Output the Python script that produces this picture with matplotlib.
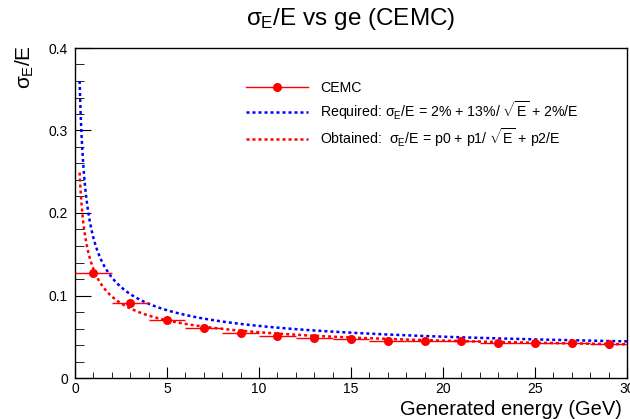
import numpy as np
import matplotlib
matplotlib.use('Agg')
import matplotlib.pyplot as plt
from matplotlib.ticker import MultipleLocator
from matplotlib.lines import Line2D

plt.rcParams['font.family'] = ['Liberation Sans', 'DejaVu Sans']
plt.rcParams['mathtext.fontset'] = 'custom'
plt.rcParams['mathtext.rm'] = 'Liberation Sans'
plt.rcParams['mathtext.it'] = 'Liberation Sans'
plt.rcParams['mathtext.sf'] = 'Liberation Sans'

# measured points (bin centres, bin half width 1 GeV)
energy = [1, 3, 5, 7, 9, 11, 13, 15, 17, 19, 21, 23, 25, 27, 29]
energy_err = [1] * 15
sigma_over_e = [0.127, 0.0905, 0.070, 0.061, 0.055, 0.051, 0.0485, 0.047,
                0.045, 0.045, 0.045, 0.043, 0.043, 0.042, 0.0416]
sigma_err = [0.002] * 15

# required resolution terms: 2% + 13%/sqrt(E) + 2%/E
required_pars = [0.02, 0.13, 0.02]
# fitted terms p0, p1, p2
fit_pars = [0.021, 0.108, 0.003]
curve_range = [0.25, 30]

label_data = 'CEMC'
label_req = r'Required: $\sigma_E$/E = 2% + 13%/ $\sqrt{\rm E}$ + 2%/E'
label_fit = r'Obtained:  $\sigma_E$/E = p0 + p1/ $\sqrt{\rm E}$ + p2/E'


def resolution(e, p):
    return p[0] + p[1] / np.sqrt(e) + p[2] / e


fig = plt.figure(figsize=(6.3, 4.19), dpi=100)
ax = fig.add_axes([75 / 630, 1 - 378 / 419, 552 / 630, 330 / 419])

e_grid = np.linspace(curve_range[0], curve_range[1], 600)
ax.errorbar(energy, sigma_over_e, xerr=energy_err, yerr=sigma_err,
            fmt='o', color='#ff0000', ms=5.5, elinewidth=1.0, capsize=0,
            zorder=3)
ax.plot(e_grid, resolution(e_grid, required_pars), color='#0000ff',
        ls=(0, (1.2, 1.2)), lw=1.8)
ax.plot(e_grid, resolution(e_grid, fit_pars), color='#ff0000',
        ls=(0, (1.2, 1.2)), lw=1.8)

ax.set_xlim(0, 30)
ax.set_ylim(0, 0.4)
ax.xaxis.set_major_locator(MultipleLocator(5))
ax.xaxis.set_minor_locator(MultipleLocator(1))
ax.yaxis.set_minor_locator(MultipleLocator(0.02))
ax.set_yticks([0, 0.1, 0.2, 0.3, 0.4])
ax.set_yticklabels(['0', '0.1', '0.2', '0.3', '0.4'])
ax.tick_params(axis='both', which='both', direction='in', top=False, right=False,
               labelsize=10)
ax.tick_params(axis='y', which='major', length=11.5, pad=5)
ax.tick_params(axis='y', which='minor', length=6.5)
ax.tick_params(axis='x', which='major', length=8, pad=3)
ax.tick_params(axis='x', which='minor', length=4.5)
for s in ax.spines.values():
    s.set_linewidth(1.0)

fig.text(622 / 630, 1 - 409 / 419, 'Generated energy (GeV)', fontsize=14.5,
         ha='right', va='center')
fig.text(25 / 630, 1 - 45 / 419, r'$\sigma_E$/E', fontsize=15, rotation=90,
         ha='center', va='top')
fig.text(351 / 630, 1 - 19 / 419, r'$\sigma_E$/E vs ge (CEMC)', fontsize=17.5,
         ha='center', va='center')

handles = [
    Line2D([], [], color='#ff0000', lw=1.0, marker='o', ms=5.5),
    Line2D([], [], color='#0000ff', lw=1.8, ls=(0, (1.2, 1.2))),
    Line2D([], [], color='#ff0000', lw=1.8, ls=(0, (1.2, 1.2))),
]
fig.legend(handles, [label_data, label_req, label_fit], loc='upper left',
           bbox_to_anchor=(246 / 630, 1 - 81 / 419), frameon=False,
           fontsize=10.2, handlelength=4.4, handletextpad=0.85,
           labelspacing=0.28, borderpad=0, borderaxespad=0, numpoints=1)

fig.savefig('out.png', dpi=100)
